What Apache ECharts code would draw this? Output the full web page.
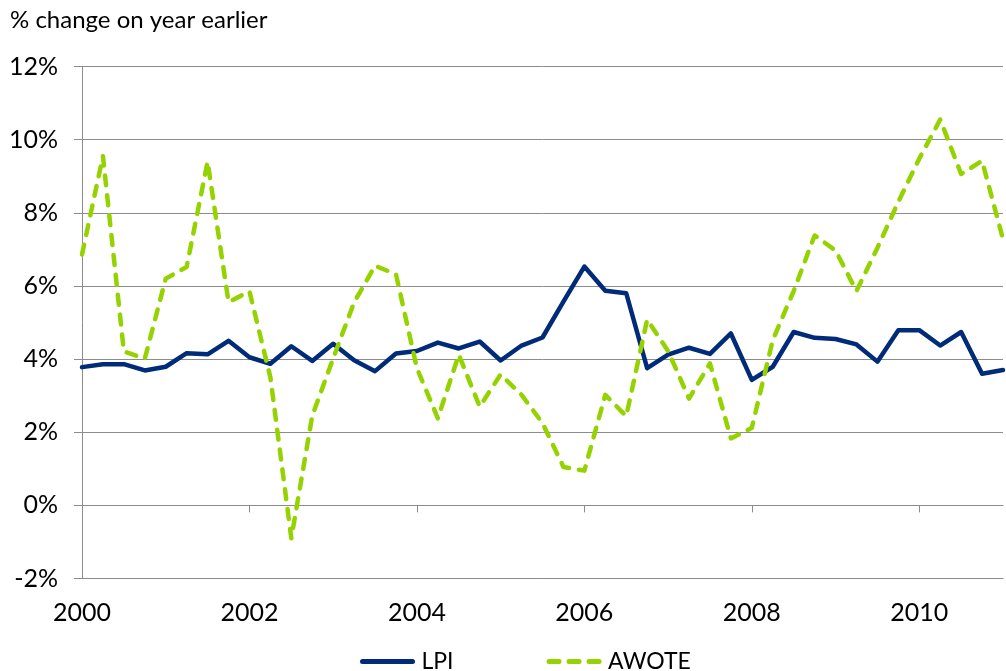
<!DOCTYPE html>
<html>
<head>
<meta charset="utf-8">
<title>LPI vs AWOTE</title>
<script src="https://cdn.jsdelivr.net/npm/echarts@6/dist/echarts.min.js"></script>
<style>
  html, body { margin: 0; padding: 0; background: #ffffff; }
  #chart { width: 1006px; height: 671px; }
</style>
</head>
<body>
<div id="chart"></div>
<script>
// Quarterly observations, March quarter 2000 to March quarter 2011
const quarters = [
  '2000 Q1', '2000 Q2', '2000 Q3', '2000 Q4',
  '2001 Q1', '2001 Q2', '2001 Q3', '2001 Q4',
  '2002 Q1', '2002 Q2', '2002 Q3', '2002 Q4',
  '2003 Q1', '2003 Q2', '2003 Q3', '2003 Q4',
  '2004 Q1', '2004 Q2', '2004 Q3', '2004 Q4',
  '2005 Q1', '2005 Q2', '2005 Q3', '2005 Q4',
  '2006 Q1', '2006 Q2', '2006 Q3', '2006 Q4',
  '2007 Q1', '2007 Q2', '2007 Q3', '2007 Q4',
  '2008 Q1', '2008 Q2', '2008 Q3', '2008 Q4',
  '2009 Q1', '2009 Q2', '2009 Q3', '2009 Q4',
  '2010 Q1', '2010 Q2', '2010 Q3', '2010 Q4',
  '2011 Q1'
];

// Labour price index, % change on year earlier
const lpi = [
  3.78, 3.86, 3.86, 3.69, 3.79, 4.16, 4.13, 4.50,
  4.05, 3.87, 4.35, 3.95, 4.42, 3.97, 3.67, 4.15,
  4.22, 4.45, 4.29, 4.48, 3.96, 4.37, 4.59, 5.57,
  6.53, 5.87, 5.80, 3.75, 4.12, 4.31, 4.14, 4.70,
  3.43, 3.79, 4.74, 4.58, 4.55, 4.40, 3.93, 4.79,
  4.79, 4.37, 4.74, 3.60, 3.70
];

// Average weekly ordinary time earnings, % change on year earlier
const awote = [
  6.86, 9.55, 4.21, 4.01, 6.20, 6.52, 9.40, 5.56,
  5.85, 3.50, -0.90, 2.45, 4.02, 5.55, 6.55, 6.32,
  3.75, 2.38, 4.12, 2.70, 3.58, 3.02, 2.25, 1.05,
  0.95, 3.02, 2.44, 5.08, 4.22, 2.92, 3.88, 1.83,
  2.12, 4.52, 5.86, 7.38, 6.97, 5.86, 7.04, 8.30,
  9.48, 10.55, 9.06, 9.42, 7.28
];

// Value axis range and step (percent)
const yMin = -2;
const yMax = 12;
const yStep = 2;

const FONT = 'Lato, "Open Sans", "Noto Sans", sans-serif';
const GRID_GREY = '#8c8c8c';
const LPI_COLOR = '#002b78';
const AWOTE_COLOR = '#94d200';

const chart = echarts.init(document.getElementById('chart'), null, { renderer: 'canvas' });

const yearOnly = (v) => v.slice(0, 4);

chart.setOption({
  animation: false,
  backgroundColor: '#ffffff',
  textStyle: { fontFamily: FONT },
  title: {
    text: '% change on year earlier',
    left: 5,
    top: 3,
    textStyle: { fontFamily: FONT, fontSize: 24, fontWeight: 'normal', color: '#000000' }
  },
  grid: {
    left: 82,
    right: 3,
    top: 66.5,
    bottom: 92.5,
    containLabel: false
  },
  legend: {
    left: 355,
    top: 645,
    itemGap: 93,
    itemWidth: 50,
    itemHeight: 14,
    itemStyle: { opacity: 0 },
    lineStyle: { width: 5 },
    textStyle: { fontFamily: FONT, fontSize: 23, color: '#000000', padding: [0, 0, 0, 4] },
    data: ['LPI', 'AWOTE']
  },
  xAxis: [
    {
      // year labels along the foot of the plot
      type: 'category',
      data: quarters,
      boundaryGap: false,
      position: 'bottom',
      axisLine: { onZero: false, lineStyle: { color: GRID_GREY, width: 1 } },
      axisTick: { show: false },
      axisLabel: {
        interval: 7,
        formatter: yearOnly,
        margin: 22,
        fontFamily: FONT,
        fontSize: 25,
        color: '#000000'
      },
      splitLine: { show: false }
    },
    {
      // tick marks hanging from the 0% line
      type: 'category',
      data: quarters,
      boundaryGap: false,
      position: 'bottom',
      axisLine: { onZero: true, onZeroAxisIndex: 0, lineStyle: { color: GRID_GREY, width: 1 } },
      axisTick: { show: true, interval: 7, length: 7, inside: false, lineStyle: { color: GRID_GREY } },
      axisLabel: { show: false },
      splitLine: { show: false }
    }
  ],
  yAxis: {
    type: 'value',
    min: yMin,
    max: yMax,
    interval: yStep,
    axisLine: { show: true, lineStyle: { color: GRID_GREY, width: 1 } },
    axisTick: { show: true, length: 8, lineStyle: { color: GRID_GREY } },
    axisLabel: {
      formatter: '{value}%',
      margin: 24,
      fontFamily: FONT,
      fontSize: 25,
      color: '#000000'
    },
    splitLine: { show: true, lineStyle: { color: GRID_GREY, width: 1 } }
  },
  series: [
    {
      name: 'LPI',
      type: 'line',
      xAxisIndex: 0,
      data: lpi,
      symbol: 'none',
      smooth: false,
      z: 3,
      lineStyle: { color: LPI_COLOR, width: 4.5, cap: 'round', join: 'round' },
      itemStyle: { color: LPI_COLOR }
    },
    {
      name: 'AWOTE',
      type: 'line',
      xAxisIndex: 0,
      data: awote,
      symbol: 'none',
      smooth: false,
      z: 4,
      lineStyle: { color: AWOTE_COLOR, width: 4.5, type: [10, 10], cap: 'round', join: 'round' },
      itemStyle: { color: AWOTE_COLOR }
    }
  ]
});
</script>
</body>
</html>
